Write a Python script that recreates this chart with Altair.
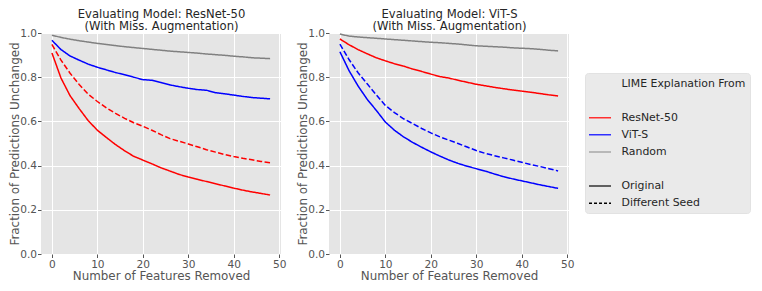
import altair as alt
import pandas as pd

# ---------------- data ----------------
features_removed = list(range(0, 50, 2))  # 0, 2, ..., 48

# Left panel: evaluating model ResNet-50
left_resnet = [0.910, 0.796, 0.716, 0.658, 0.603, 0.560, 0.527, 0.495, 0.467, 0.442,
               0.425, 0.408, 0.390, 0.375, 0.360, 0.348, 0.338, 0.328, 0.318, 0.308,
               0.298, 0.289, 0.281, 0.274, 0.267]
left_resnet_seed = [0.948, 0.877, 0.818, 0.767, 0.723, 0.690, 0.661, 0.636, 0.614, 0.594,
                    0.578, 0.560, 0.540, 0.522, 0.510, 0.498, 0.485, 0.472, 0.461, 0.450,
                    0.441, 0.433, 0.426, 0.419, 0.413]
left_vit = [0.967, 0.925, 0.896, 0.877, 0.859, 0.845, 0.833, 0.821, 0.811, 0.800,
            0.789, 0.786, 0.776, 0.765, 0.757, 0.750, 0.744, 0.741, 0.730, 0.725,
            0.719, 0.713, 0.708, 0.705, 0.702]
left_random = [0.990, 0.980, 0.972, 0.965, 0.959, 0.953, 0.948, 0.943, 0.938, 0.934,
               0.930, 0.926, 0.922, 0.918, 0.915, 0.912, 0.909, 0.905, 0.902, 0.899,
               0.895, 0.892, 0.888, 0.886, 0.884]

# Right panel: evaluating model ViT-S
right_resnet = [0.973, 0.947, 0.925, 0.906, 0.888, 0.874, 0.861, 0.850, 0.837, 0.826,
                0.814, 0.803, 0.796, 0.786, 0.777, 0.768, 0.761, 0.754, 0.748, 0.742,
                0.737, 0.732, 0.726, 0.720, 0.715]
right_vit = [0.915, 0.830, 0.760, 0.700, 0.650, 0.597, 0.560, 0.530, 0.505, 0.483,
             0.462, 0.443, 0.425, 0.410, 0.397, 0.386, 0.375, 0.362, 0.350, 0.340,
             0.331, 0.322, 0.313, 0.305, 0.297]
right_vit_seed = [0.950, 0.880, 0.820, 0.770, 0.720, 0.672, 0.640, 0.612, 0.590, 0.568,
                  0.548, 0.530, 0.515, 0.500, 0.484, 0.468, 0.455, 0.445, 0.435, 0.425,
                  0.415, 0.405, 0.396, 0.386, 0.376]
right_random = [0.995, 0.986, 0.982, 0.979, 0.976, 0.973, 0.970, 0.967, 0.964, 0.961,
                0.958, 0.956, 0.953, 0.950, 0.946, 0.942, 0.940, 0.938, 0.936, 0.933,
                0.931, 0.929, 0.926, 0.922, 0.919]

sources = ["ResNet-50", "ViT-S", "Random"]
source_colors = ["#FF0000", "#0000FF", "#808080"]
styles = ["Original", "Different Seed"]
style_dashes = [[1, 0], [5.5, 2.4]]

x_ticks = [0, 10, 20, 30, 40, 50]
y_ticks = [0.0, 0.2, 0.4, 0.6, 0.8, 1.0]

left_title = ["Evaluating Model: ResNet-50", "(With Miss. Augmentation)"]
right_title = ["Evaluating Model: ViT-S", "(With Miss. Augmentation)"]

legend_keys = ["LIME Explanation From", " ", "ResNet-50", "ViT-S", "Random",
               "  ", "Original", "Different Seed"]
legend_colors = ["rgba(0,0,0,0)", "rgba(0,0,0,0)", "#FF3030", "#3030FF", "#A8A8A8",
                 "rgba(0,0,0,0)", "#333333", "#000000"]
legend_dashes = [[1, 0], [1, 0], [1, 0], [1, 0], [1, 0], [1, 0], [1, 0], [3, 2]]


def frame(series):
    rows = []
    for source, style, values in series:
        for xv, yv in zip(features_removed, values):
            rows.append({"x": xv, "y": yv, "source": source, "style": style,
                         "key": source})
    return pd.DataFrame(rows)


left_df = frame([
    ("Random", "Original", left_random),
    ("ViT-S", "Original", left_vit),
    ("ResNet-50", "Original", left_resnet),
    ("ResNet-50", "Different Seed", left_resnet_seed),
])
right_df = frame([
    ("Random", "Original", right_random),
    ("ResNet-50", "Original", right_resnet),
    ("ViT-S", "Original", right_vit),
    ("ViT-S", "Different Seed", right_vit_seed),
])

FONT = "DejaVu Sans"
FS = 11.9      # axis titles
TKS = 10.6     # tick labels
TFS = 11.6     # panel titles
LFS = 10.9     # legend
W, H = 240, 221
XDOM = [-2.4, 50.4]


def lines(df):
    return alt.Chart(df).mark_line(strokeWidth=1.5).encode(
        x=alt.X("x:Q", scale=alt.Scale(domain=XDOM, nice=False, zero=False),
                axis=alt.Axis(values=x_ticks, title="Number of Features Removed",
                              titlePadding=1)),
        y=alt.Y("y:Q", scale=alt.Scale(domain=[0, 1], nice=False),
                axis=alt.Axis(values=y_ticks, format=".1f", titlePadding=-1, labelPadding=1,
                              title="Fraction of Predictions Unchanged")),
        color=alt.Color("source:N", scale=alt.Scale(domain=sources, range=source_colors),
                        legend=None),
        strokeDash=alt.StrokeDash("style:N", scale=alt.Scale(domain=styles, range=style_dashes),
                                  legend=None),
        detail="source:N",
    ).properties(width=W, height=H)


leg = alt.Legend(
    title=None, orient="none", legendX=256, legendY=40,
    symbolType="M-2,0H2", symbolSize=121, symbolStrokeWidth=1.5, symbolOffset=4.5,
    labelFont=FONT, labelFontSize=LFS, labelColor="#262626", labelOffset=15,
    rowPadding=5.1, padding=4, fillColor="#EAEAEA", strokeColor="#E2E2E2",
    cornerRadius=3, labelLimit=300,
)


def title_layer(df, title, with_legend=False):
    # an empty layer whose top axis carries the panel title (and optionally the legend)
    enc = dict(
        x=alt.X("x:Q", scale=alt.Scale(domain=XDOM, nice=False, zero=False),
                axis=alt.Axis(orient="top", title=title, labels=False, ticks=False,
                              grid=False, domain=False, titleFontSize=TFS,
                              titleColor="#262626", titleLineHeight=11.5,
                              titlePadding=2)),
    )
    if with_legend:
        enc["color"] = alt.Color("key:N", scale=alt.Scale(domain=legend_keys, range=legend_colors),
                                 legend=leg)
        enc["strokeDash"] = alt.StrokeDash("key:N",
                                           scale=alt.Scale(domain=legend_keys, range=legend_dashes),
                                           legend=leg)
    return alt.Chart(df).mark_line().encode(**enc).transform_filter(
        alt.datum.x > 1000).properties(width=W, height=H)


left = alt.layer(lines(left_df), title_layer(left_df, left_title)).resolve_axis(x="independent")
right = alt.layer(
    lines(right_df), title_layer(right_df, right_title, with_legend=True),
).resolve_scale(color="independent", strokeDash="independent").resolve_axis(x="independent")

chart = alt.hconcat(left, right, spacing=10).resolve_scale(
    color="independent", strokeDash="independent"
).properties(padding=0).configure_view(
    fill="#E5E5E5", stroke=None
).configure_axis(
    domain=False, grid=True, gridColor="#FFFFFF", gridWidth=1,
    tickColor="#555555", tickSize=3.5, tickWidth=1,
    labelColor="#555555", titleColor="#555555",
    labelFont=FONT, titleFont=FONT, labelFontSize=TKS, titleFontSize=FS,
    titleFontWeight="normal", labelPadding=1.5,
)

chart.save("out.html", embed_options={"renderer": "svg", "actions": False})
